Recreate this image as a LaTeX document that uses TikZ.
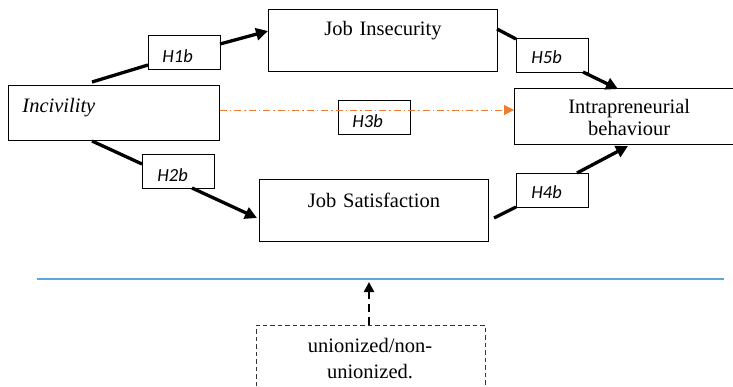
\documentclass[tikz,border=0pt]{standalone}
\usepackage{fontspec}
\setmainfont{Liberation Serif}
\newfontfamily\hfont{Carlito}
\usetikzlibrary{arrows.meta,calc}
\definecolor{orangeline}{RGB}{237,125,49}
\definecolor{blueline}{RGB}{91,168,222}
\tikzset{
  mainbox/.style={draw, line width=0.9pt, inner sep=0pt, anchor=north west,
    font=\fontsize{20.5}{22}\selectfont},
  hbox/.style={draw, line width=0.9pt, inner xsep=14pt, inner ysep=0pt, anchor=north west,
    minimum width=72pt, minimum height=34pt, text width=44pt, align=left,
    text height=27pt, text depth=7pt, font=\hfont\itshape\fontsize{18.5}{20}\selectfont},
  patharrow/.style={line width=3.3pt, -{Triangle[length=12pt,width=12pt]}},
  pathline/.style={line width=3.3pt},
}
\begin{document}
\begin{tikzpicture}[x=1pt,y=-1pt]
\useasboundingbox (0,0) rectangle (733,386);

% main boxes
\node[mainbox, minimum width=211pt, minimum height=55pt, text width=183pt, inner xsep=14pt,
  align=left, text height=27pt, text depth=28pt] (inc) at (8,85) {\itshape Incivility};
\node[mainbox, minimum width=229pt, minimum height=62pt, text width=229pt, align=center,
  text height=26pt, text depth=36pt] (ji) at (268,9) {Job Insecurity};
\node[mainbox, minimum width=229pt, minimum height=62pt, text width=229pt, align=center,
  text height=28pt, text depth=34pt] (js) at (259,179) {Job Satisfaction};
\node[mainbox, minimum width=218.5pt, minimum height=56pt,
  text height=25pt, text depth=31pt] (ib) at (514,88)
  {\hspace*{11pt}\begin{tabular}[t]{@{}c@{}}Intrapreneurial\\behaviour\end{tabular}};

% hypothesis boxes
\node[hbox] (h1) at (148,35) {H1b};
\node[hbox, inner xsep=15pt, text width=42pt] (h2) at (142,154) {H2b};
\node[hbox] (h3) at (338,100) {H3b};
\node[hbox, text height=25pt, text depth=9pt, inner xsep=15pt, text width=42pt] (h5) at (516,38) {H5b};
\node[hbox, text height=25pt, text depth=9pt, inner xsep=15pt, text width=42pt] (h4) at (516,173) {H4b};

% connector end points
\coordinate (a1) at (92,82);
\coordinate (a2) at (148,65);
\coordinate (a3) at (220,44);
\coordinate (a4) at (268,31);
\coordinate (b1) at (92,141);
\coordinate (b2) at (142,164);
\coordinate (b3) at (192,188);
\coordinate (b4) at (257,218);
\coordinate (c1) at (497,29);
\coordinate (c2) at (516,39);
\coordinate (c3) at (583,72);
\coordinate (c4) at (618,89);
\coordinate (d1) at (494,218);
\coordinate (d2) at (516,207);
\coordinate (d3) at (577,173);
\coordinate (d4) at (628,146);

% H1b path
\draw[pathline] (a1) -- (a2);
\draw[patharrow] (a3) -- (a4);
% H2b path
\draw[pathline] (b1) -- (b2);
\draw[patharrow] (b3) -- (b4);
% H5b path
\draw[pathline] (c1) -- (c2);
\draw[patharrow] (c3) -- (c4);
% H4b path
\draw[pathline] (d1) -- (d2);
\draw[patharrow] (d3) -- (d4);

% H3b orange dash-dot arrow
\draw[orangeline, line width=1pt, dash pattern=on 7pt off 3pt on 1.5pt off 3pt,
  -{Triangle[length=10pt,width=10pt]}] (inc.east |- 0,110) -- (ib.west |- 0,110);

% blue separator
\coordinate (bl) at (37,279);
\coordinate (br) at (724,279);
\draw[blueline, line width=1.3pt] (bl) -- (br);

% moderator
\node[inner sep=0pt, align=center, font=\fontsize{20.5}{26}\selectfont, anchor=base]
  (mod) at (370,378) {unionized/non-\\unionized.};
\coordinate (mtl) at (256,325);
\coordinate (mtr) at (485,325);
\coordinate (mbl) at (256,386);
\coordinate (mbr) at (485,386);
\coordinate (mtop) at (369,325);
\coordinate (marr) at (369,282);
\draw[line width=1pt, dash pattern=on 4.5pt off 3pt, black!80] (mbl) -- (mtl) -- (mtr) -- (mbr);
\draw[line width=2.8pt, dash pattern=on 8pt off 5pt, -{Triangle[length=10pt,width=10pt]}] (mtop) -- (marr);
\end{tikzpicture}
\end{document}
